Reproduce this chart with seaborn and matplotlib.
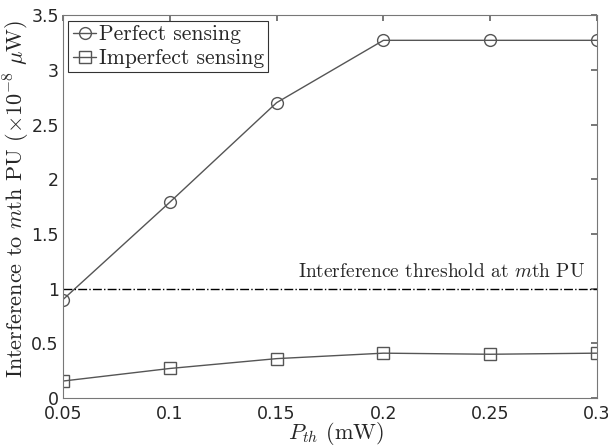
import matplotlib
matplotlib.use("Agg")
import matplotlib.pyplot as plt
import seaborn as sns
import pandas as pd

p_th = [0.05, 0.1, 0.15, 0.2, 0.25, 0.3]
perfect = [0.90, 1.79, 2.70, 3.27, 3.27, 3.27]
imperfect = [0.155, 0.27, 0.36, 0.41, 0.40, 0.41]
threshold = 1.0
xticks = [0.05, 0.1, 0.15, 0.2, 0.25, 0.3]
yticks = [0, 0.5, 1, 1.5, 2, 2.5, 3, 3.5]

sns.set_theme(style="white")
plt.rcParams['font.family'] = ['DejaVu Sans']
plt.rcParams['mathtext.fontset'] = 'cm'
plt.rcParams['axes.unicode_minus'] = False

df = pd.DataFrame({
    "P": p_th * 2,
    "val": perfect + imperfect,
    "series": ["Perfect sensing"] * 6 + ["Imperfect sensing"] * 6,
})

fig = plt.figure(figsize=(6.08, 4.46), dpi=100)
ax = fig.add_axes([0.1036, 0.1076, 0.8784, 0.8584])

col = "#555555"
sns.lineplot(data=df, x="P", y="val", style="series", markers=["o", "s"],
             dashes=False, color=col, markersize=8.5, markerfacecolor="none",
             markeredgecolor=col, markeredgewidth=1.0, linewidth=1.0, ax=ax)

ax.axhline(threshold, color="black", linestyle="-.", linewidth=1.0)
ax.text(0.2945, 1.07, r"Interference threshold at $m$th PU", ha="right", va="bottom",
        fontdict={'family': 'cmr10', 'size': 14})

ax.set_xlim(0.05, 0.3)
ax.set_ylim(0, 3.5)
ax.set_xticks(xticks)
ax.set_xticklabels(["0.05", "0.1", "0.15", "0.2", "0.25", "0.3"])
ax.set_yticks(yticks)
ax.set_yticklabels(["0", "0.5", "1", "1.5", "2", "2.5", "3", "3.5"])
ax.tick_params(direction="in", length=4, top=True, right=True, labelsize=12.5,
               color="#666666")
ax.tick_params(axis="x", pad=5)
ax.tick_params(axis="y", pad=3)
for s in ax.spines.values():
    s.set_color("#777777")
    s.set_linewidth(0.8)

ax.set_xlabel(r"$P_{th}$ (mW)", fontdict={'family': 'cmr10', 'size': 16})
ax.xaxis.set_label_coords(0.511, -0.057)
ax.set_ylabel(r"Interference to $m$th PU ($\times10^{-8}\ \mu$W)",
              fontdict={'family': 'cmr10', 'size': 16})
ax.yaxis.set_label_coords(-0.086, 0.52)
ax.yaxis.label.set_va("center")

leg = ax.legend(loc="upper left", prop={'family': 'cmr10', 'size': 15.5},
                frameon=True, fancybox=False, edgecolor="black",
                handlelength=1.1, handletextpad=0.1, borderpad=0.2,
                labelspacing=0.2, borderaxespad=0.25)
leg.get_frame().set_linewidth(0.8)

fig.savefig("out.png", dpi=100)
